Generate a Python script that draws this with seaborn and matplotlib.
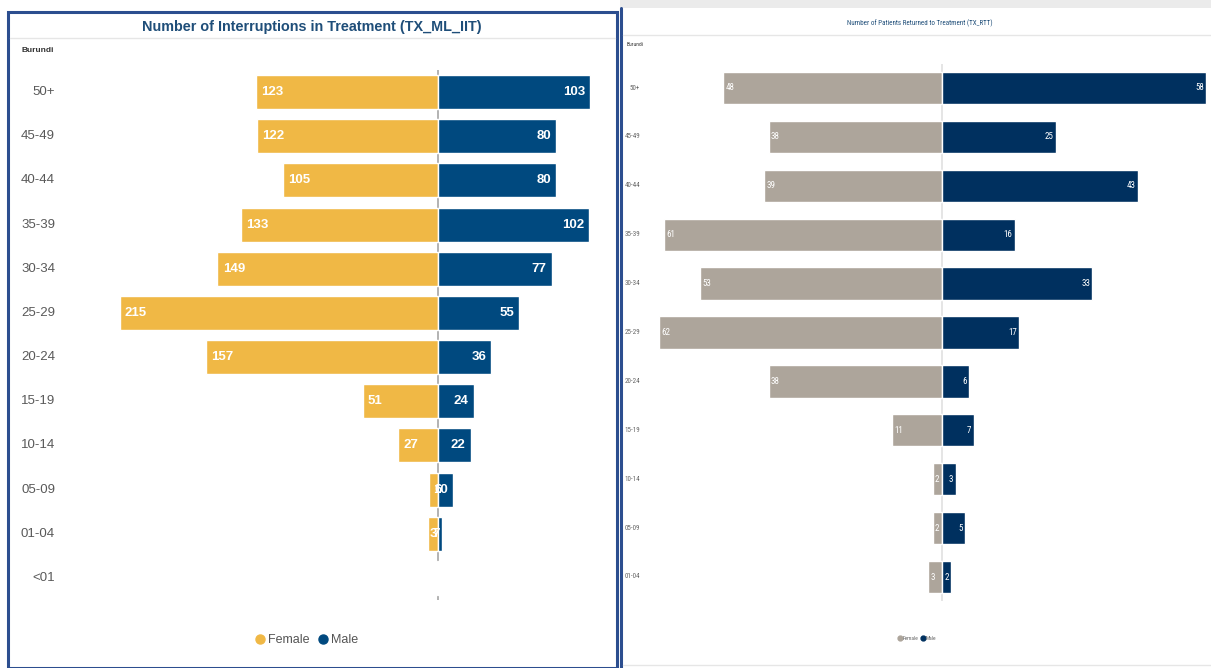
import matplotlib.pyplot as plt
import matplotlib.transforms as mtransforms
from matplotlib import font_manager
from matplotlib.lines import Line2D
from matplotlib.patches import Rectangle
import pandas as pd
import seaborn as sns

# left chart: interruptions in treatment
iit_ages = ['50+', '45-49', '40-44', '35-39', '30-34', '25-29', '20-24',
            '15-19', '10-14', '05-09', '01-04', '<01']
iit_female = [123, 122, 105, 133, 149, 215, 157, 51, 27, 6, 7, 1]
iit_male = [103, 80, 80, 102, 77, 55, 36, 24, 22, 10, 3, 0]

# right chart: returned to treatment
rtt_ages = ['50+', '45-49', '40-44', '35-39', '30-34', '25-29', '20-24',
            '15-19', '10-14', '05-09', '01-04']
rtt_female = [48, 38, 39, 61, 53, 62, 38, 11, 2, 2, 3]
rtt_male = [58, 25, 43, 16, 33, 17, 6, 7, 3, 5, 2]

W, H = 1211, 668


def fx(x):
    return x / W


def fy(y):
    return 1 - y / H


sns.set_style('white')
plt.rcParams['font.family'] = ['Liberation Sans', 'DejaVu Sans']

# the right chart uses a condensed face; take the first one that is installed
installed = {f.name for f in font_manager.fontManager.ttflist}
narrow_font = 'Liberation Sans'
for name in ['Liberation Sans Narrow', 'Roboto Condensed', 'Noto Sans Condensed',
             'DejaVu Sans Condensed', 'Open Sans Condensed']:
    if name in installed:
        narrow_font = name
        break
narrow = [narrow_font, 'Liberation Sans']

fig = plt.figure(figsize=(12.11, 6.68), dpi=100)

# panel frames
fig.patches.append(Rectangle((fx(8), fy(668)), fx(609), fy(12) - fy(668),
                             transform=fig.transFigure, fill=False,
                             edgecolor='#2C4E8F', linewidth=2.2))
fig.patches.append(Rectangle((fx(620), fy(8)), fx(591), fy(0) - fy(8),
                             transform=fig.transFigure, color='#EBEBEB', lw=0))
fig.lines.append(Line2D([fx(621), fx(621)], [fy(668), fy(8)],
                        transform=fig.transFigure, color='#2C4E8F', lw=2.2))
fig.lines.append(Line2D([fx(10), fx(615)], [fy(38), fy(38)],
                        transform=fig.transFigure, color='#E6E6E6', lw=1))
fig.lines.append(Line2D([fx(623), fx(1211)], [fy(35), fy(35)],
                        transform=fig.transFigure, color='#E6E6E6', lw=1))
fig.lines.append(Line2D([fx(623), fx(1211)], [fy(665), fy(665)],
                        transform=fig.transFigure, color='#E6E6E6', lw=1))

fig.text(fx(312), fy(27), 'Number of Interruptions in Treatment (TX_ML_IIT)',
         ha='center', va='center', fontsize=10.4, fontweight='bold', color='#1F4E79')
fig.text(fx(22), fy(50), 'Burundi', ha='left', va='center', fontsize=6,
         fontweight='bold', color='#333333')
fig.text(fx(920), fy(23), 'Number of Patients Returned to Treatment (TX_RTT)',
         ha='center', va='center', fontsize=5, color='#1F4E79', family=narrow)
fig.text(fx(627), fy(45), 'Burundi', ha='left', va='center', fontsize=4,
         color='#333333', family=narrow)

# left chart
iit_df = pd.DataFrame({'age': iit_ages, 'female': [-v for v in iit_female], 'male': iit_male})
ax1 = fig.add_axes([fx(60), fy(600.1), fx(550), fy(69.9) - fy(600.1)])
sns.barplot(data=iit_df, x='female', y='age', color='#F0B845', width=0.77,
            saturation=1, ax=ax1, orient='h')
sns.barplot(data=iit_df, x='male', y='age', color='#00497F', width=0.77,
            saturation=1, ax=ax1, orient='h')
ax1.set_xlim(-255.4, 116.2)
ax1.axvline(0, color='#A6A6A6', lw=1.2, zorder=0.5)
ax1.set_xticks([])
ax1.set_yticks([])
ax1.set_xlabel('')
ax1.set_ylabel('')
sns.despine(ax=ax1, left=True, bottom=True)
trans1 = mtransforms.blended_transform_factory(fig.transFigure, ax1.transData)
for i, age in enumerate(iit_ages):
    ax1.text(fx(55), i, age, transform=trans1, ha='right', va='center',
             fontsize=9.5, color='#595959')
    ax1.text(-iit_female[i] + 3.5, i, str(iit_female[i]), ha='left', va='center',
             fontsize=9.5, fontweight='bold', color='white')
    ax1.text(iit_male[i] - 3.5, i, str(iit_male[i]), ha='right', va='center',
             fontsize=9.5, fontweight='bold', color='white')

leg1 = fig.legend(handles=[Line2D([], [], marker='o', ls='', color='#F0B845', markersize=6.5),
                           Line2D([], [], marker='o', ls='', color='#00497F', markersize=6.5)],
                  labels=['Female', 'Male'], loc='center', bbox_to_anchor=(fx(306), fy(640)),
                  ncol=2, frameon=False, fontsize=9, handletextpad=0.1,
                  columnspacing=0.6, handlelength=1)
for t in leg1.get_texts():
    t.set_color('#555555')

# right chart
rtt_df = pd.DataFrame({'age': rtt_ages, 'female': [-v for v in rtt_female], 'male': rtt_male})
ax2 = fig.add_axes([fx(650), fy(601.45), fx(561), fy(63.55) - fy(601.45)])
sns.barplot(data=rtt_df, x='female', y='age', color='#ADA59B', width=0.66,
            saturation=1, ax=ax2, orient='h')
sns.barplot(data=rtt_df, x='male', y='age', color='#00305F', width=0.66,
            saturation=1, ax=ax2, orient='h')
ax2.set_xlim(-64.0, 59.0)
ax2.axvline(0, color='#E0E0E0', lw=1.2, zorder=0.5)
ax2.set_xticks([])
ax2.set_yticks([])
ax2.set_xlabel('')
ax2.set_ylabel('')
sns.despine(ax=ax2, left=True, bottom=True)
trans2 = mtransforms.blended_transform_factory(fig.transFigure, ax2.transData)
for i, age in enumerate(rtt_ages):
    ax2.text(fx(640), i, age, transform=trans2, ha='right', va='center',
             fontsize=5, color='#666666', family=narrow)
    ax2.text(-rtt_female[i] + 0.5, i, str(rtt_female[i]), ha='left', va='center',
             fontsize=6.5, color='white', family=narrow)
    ax2.text(rtt_male[i] - 0.5, i, str(rtt_male[i]), ha='right', va='center',
             fontsize=6.5, color='white', family=narrow)

leg2 = fig.legend(handles=[Line2D([], [], marker='o', ls='', color='#ADA59B', markersize=3.5),
                           Line2D([], [], marker='o', ls='', color='#00305F', markersize=3.5)],
                  labels=['Female', 'Male'], loc='center', bbox_to_anchor=(fx(917), fy(638)),
                  ncol=2, frameon=False, handletextpad=0.05,
                  columnspacing=0.4, handlelength=0.8,
                  prop={'family': narrow, 'size': 4})
for t in leg2.get_texts():
    t.set_color('#666666')

fig.savefig('out.png', dpi=100)
